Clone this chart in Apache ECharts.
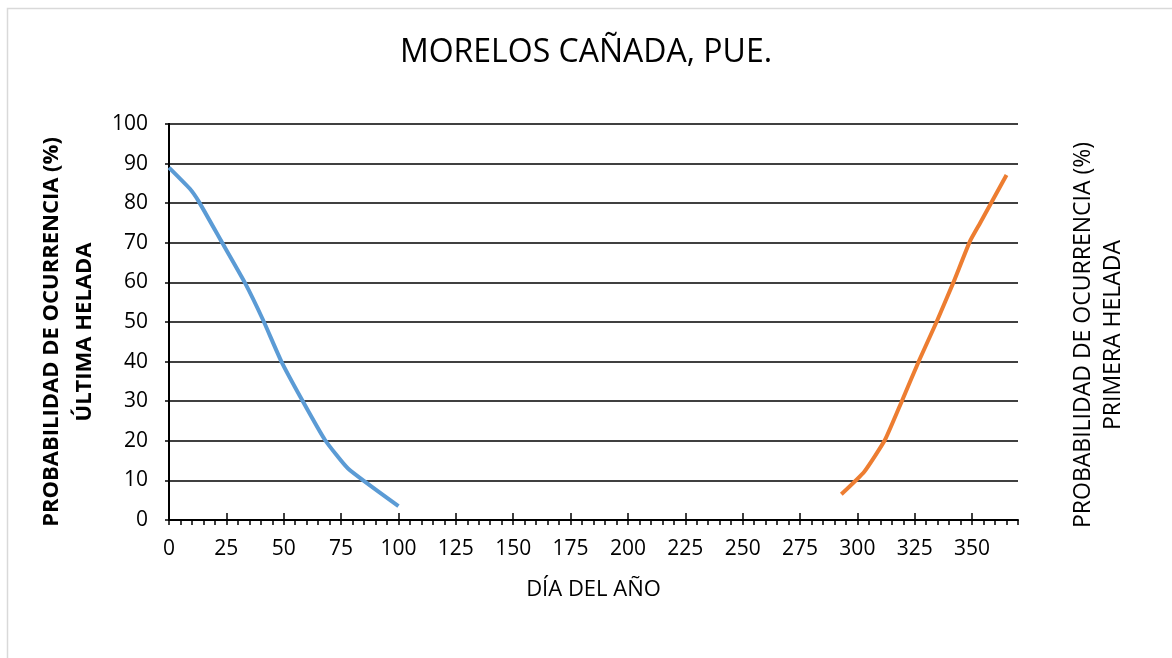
<!DOCTYPE html>
<html>
<head>
<meta charset="utf-8">
<script src="https://cdn.jsdelivr.net/npm/echarts@6/dist/echarts.min.js"></script>
<style>
html,body{margin:0;padding:0;background:#fff;}
#chart{width:1172px;height:658px;}
</style>
</head>
<body>
<div id="chart"></div>
<script>
// Data
var ultimaDias = [0, 9, 13, 23, 33, 41, 49, 58, 68, 78, 100];
var ultimaProb = [89, 83.7, 80.4, 70.2, 60, 50.5, 40, 30.3, 20.2, 13, 3.5];
var primeraDias = [293, 303, 312, 319, 327, 334.5, 342, 349, 353.5, 365];
var primeraProb = [6.5, 12.2, 20.2, 29.5, 40.4, 50, 60.2, 70.3, 75, 87.1];
var titleText = 'MORELOS CAÑADA, PUE.';
var xTitle = 'DÍA DEL AÑO';
var yLeftTitle = 'PROBABILIDAD DE OCURRENCIA (%)\nÚLTIMA HELADA';
var yRightTitle = 'PROBABILIDAD DE OCURRENCIA (%)\nPRIMERA HELADA';

function pairs(xs, ys){ return xs.map(function(x,i){ return [x, ys[i]]; }); }

var font = '"Open Sans", "Noto Sans", sans-serif';
var chart = echarts.init(document.getElementById('chart'), null, {renderer:'canvas'});
chart.setOption({
  backgroundColor: '#fff',
  animation: false,
  graphic: [{
    type: 'rect', left: 5, top: 6, silent: true,
    shape: {x: 0, y: 0, width: 1200, height: 700},
    style: {fill: 'none', stroke: '#d9d9d9', lineWidth: 1.5}
  }],
  title: {
    text: titleText, left: 'center', top: 32,
    textStyle: {fontFamily: font, fontSize: 32, fontWeight: 'normal', color: '#000'}
  },
  grid: {left: 169, right: 154, top: 124, bottom: 138},
  xAxis: [{
    type: 'value', min: 0, max: 370, interval: 25,
    name: xTitle, nameLocation: 'middle', nameGap: 59,
    nameTextStyle: {fontFamily: font, fontSize: 22, color: '#000'},
    axisLine: {show: true, lineStyle: {color: '#000', width: 2}},
    axisTick: {show: true, inside: true, length: 7, lineStyle: {color: '#000', width: 1.5}},
    axisLabel: {fontFamily: font, fontSize: 21, color: '#000', margin: 19,
      showMaxLabel: false},
    splitLine: {show: false}
  }, {
    type: 'value', min: 0, max: 370, interval: 5, position: 'bottom',
    axisLine: {show: false},
    axisTick: {show: true, inside: false, length: 5, lineStyle: {color: '#000', width: 1.5}},
    axisLabel: {show: false},
    splitLine: {show: false}
  }],
  yAxis: [{
    type: 'value', min: 0, max: 100, interval: 10, position: 'left',
    name: yLeftTitle, nameLocation: 'middle', nameGap: 65, nameRotate: 90,
    nameTextStyle: {fontFamily: font, fontSize: 22, fontWeight: 'bold', color: '#000',
      lineHeight: 33, padding: [0, 20, 0, 0]},
    axisLine: {show: true, lineStyle: {color: '#000', width: 2}},
    axisTick: {show: true, length: 4, lineStyle: {color: '#000', width: 1.5}},
    axisLabel: {fontFamily: font, fontSize: 21, color: '#000', margin: 21},
    splitLine: {show: true, lineStyle: {color: '#000', width: 1.5}}
  }, {
    type: 'value', min: 0, max: 100, interval: 10, position: 'right',
    name: yRightTitle, nameLocation: 'middle', nameGap: 50, nameRotate: 90,
    nameTextStyle: {fontFamily: font, fontSize: 23, color: '#000', lineHeight: 30,
      padding: [0, 26, 0, 0]},
    axisLine: {show: true, lineStyle: {color: '#000', width: 2}},
    axisTick: {show: false},
    axisLabel: {show: false},
    splitLine: {show: false}
  }],
  series: [{
    type: 'line', xAxisIndex: 0, yAxisIndex: 0,
    data: pairs(ultimaDias, ultimaProb),
    showSymbol: false, smooth: 0.15,
    lineStyle: {color: '#5b9bd5', width: 4}
  }, {
    type: 'line', xAxisIndex: 0, yAxisIndex: 1,
    data: pairs(primeraDias, primeraProb),
    showSymbol: false, smooth: 0.15,
    lineStyle: {color: '#ed7d31', width: 4}
  }]
});
</script>
</body>
</html>
